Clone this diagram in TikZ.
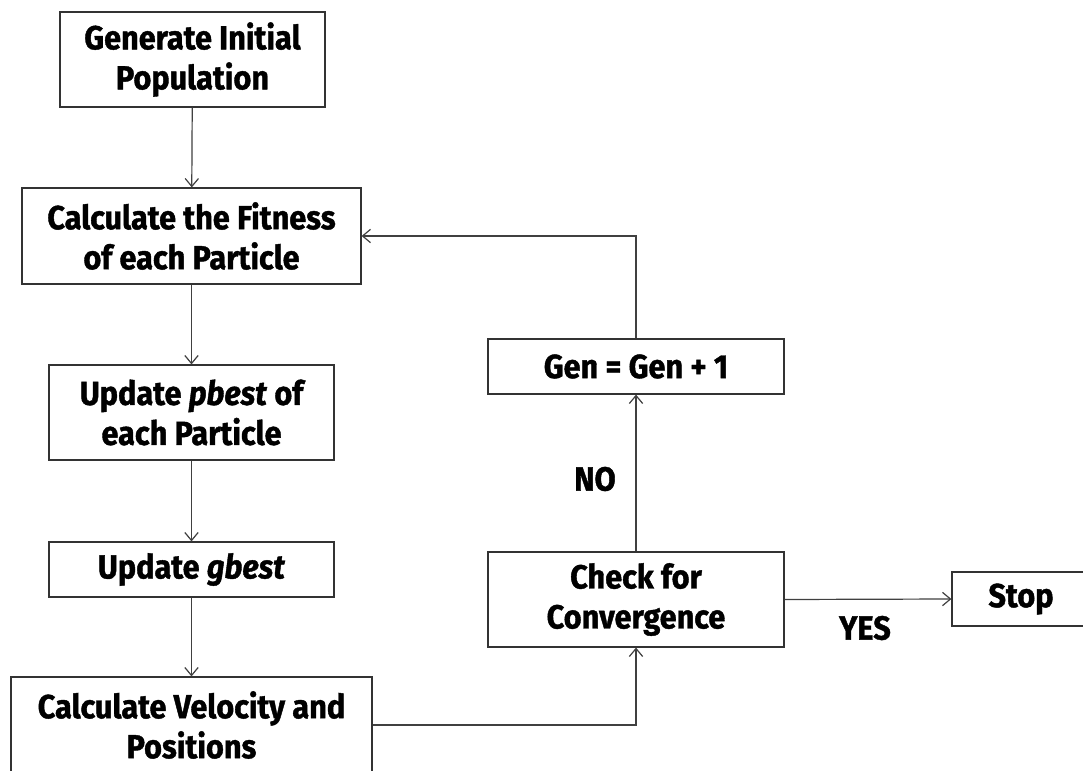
\documentclass[tikz,border=0pt]{standalone}
\usepackage{fontspec}
\setmainfont{Fira Sans}[FakeStretch=0.92,
  BoldFeatures={FakeBold=1.2}, BoldItalicFeatures={FakeBold=1.2}]
\usetikzlibrary{arrows.meta}
\begin{document}
\begin{tikzpicture}[x=0.75pt,y=-0.75pt,
  txt/.style={font=\bfseries\fontsize{25}{30}\selectfont, text=black},
  box/.style={txt, draw=black!80, line width=0.9pt, rectangle, align=center, inner sep=0pt},
  sz/.style 2 args={minimum width=#1*0.75pt, minimum height=#2*0.75pt},
  flow/.style={draw=black!75, line width=0.9pt, -{Straight Barb[length=6pt,width=10pt,line width=0.9pt]}}]
\path[use as bounding box] (0,0) rectangle (1083,771);
\clip (0,0) rectangle (1083,771);
\fill[white] (0,0) rectangle (1083,771);

% main column
\node[box, sz={265}{95}] (init) at (192.5,59.5) {Generate Initial\\Population};
\node[box, sz={339}{96}] (fit) at (191.5,236) {Calculate the Fitness\\of each Particle};
\node[box, sz={285}{95}] (pbest) at (191.5,412.5) {Update \textit{pbest} of\\each Particle};
\node[box, sz={285}{55}] (gbest) at (191.5,569.5) {Update \textit{gbest}};
\node[box, sz={361}{96}] (vel) at (191.5,725) {Calculate Velocity and\\Positions};

% loop column
\node[box, sz={296}{55}] (gen) at (636,366.5) {Gen = Gen + 1};
\node[box, sz={296}{95}] (conv) at (636,599.5) {Check for\\Convergence};
\node[box, sz={138}{54}] (stop) at (1021,599) {Stop};

% connectors
\draw[flow] (init) -- (fit);
\draw[flow] (fit) -- (pbest);
\draw[flow] (pbest) -- (gbest);
\draw[flow] (gbest) -- (vel);
\draw[flow] (vel.east) -| (conv.south);
\draw[flow] (conv) -- (gen);
\draw[flow] (gen.north) |- (fit.east);
\draw[flow] (conv.east) -- (stop.west);

% branch labels
\node[txt] (no) at (595,479) {NO};
\node[txt] (yes) at (865,628) {YES};
\end{tikzpicture}
\end{document}
